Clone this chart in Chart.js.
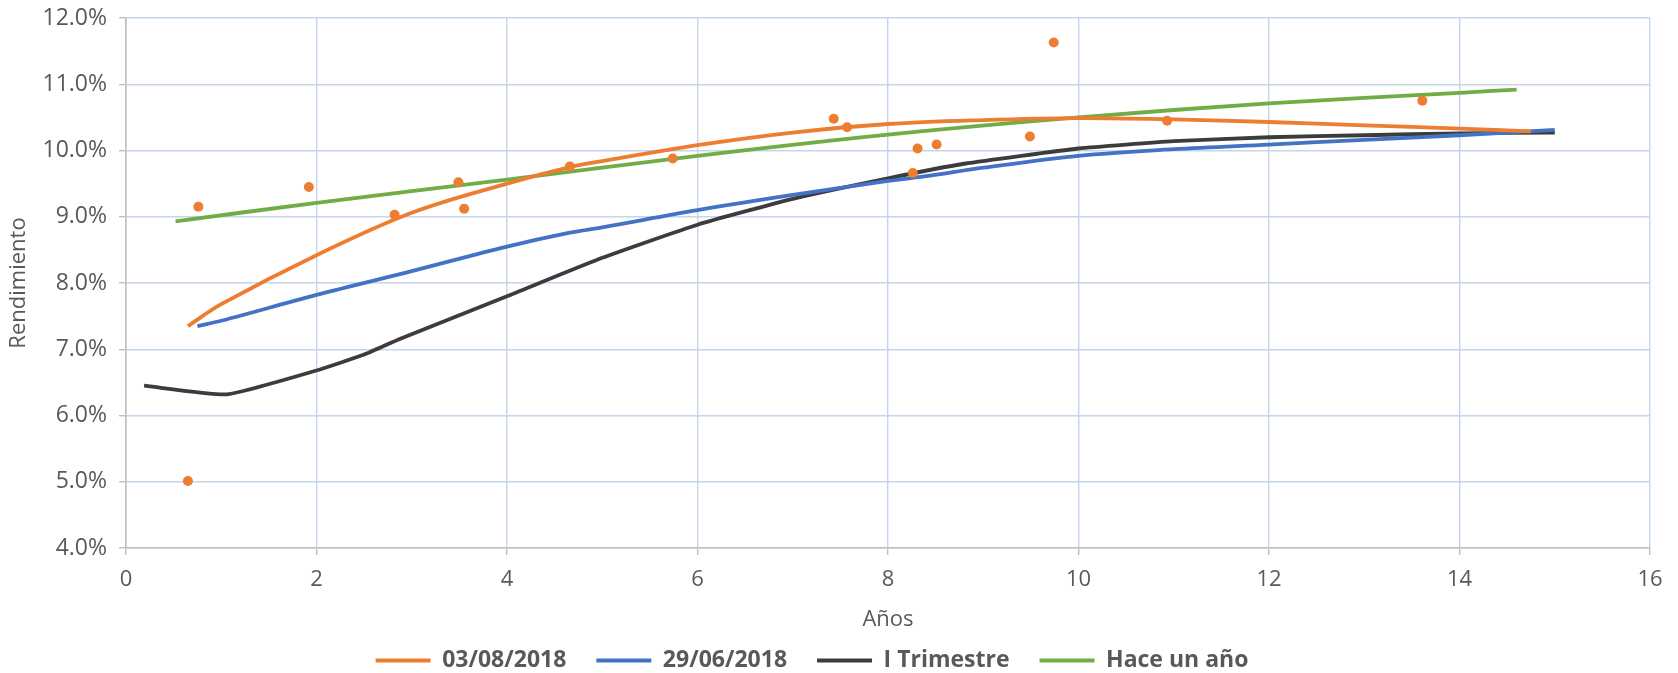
<!DOCTYPE html>
<html>
<head>
<meta charset="utf-8">
<script src="https://cdn.jsdelivr.net/npm/chart.js@4.4.1/dist/chart.umd.min.js"></script>
<style>
  html, body { margin: 0; padding: 0; background: #fff; }
  #wrap { width: 1678px; height: 673px; position: relative; }
</style>
</head>
<body>
<div id="wrap"><canvas id="curva"></canvas></div>
<script>
// ================================
// CURVA DE RENDIMIENTOS
// ================================

// nombres de las series (leyenda)
const seriesNames = ["03/08/2018", "29/06/2018", "I Trimestre", "Hace un año"];

// 03/08/2018 - curva ajustada
const agostoX = [0.65, 1, 2, 3, 4, 4.66, 5, 6, 7, 8, 9, 10, 11, 12, 13, 14, 14.75];
const agostoY = [7.35, 7.68, 8.42, 9.06, 9.5, 9.75, 9.84, 10.08, 10.27, 10.4, 10.46, 10.49, 10.47, 10.43, 10.38, 10.33, 10.29];

// 03/08/2018 - observaciones (puntos)
const obsX = [0.65, 0.76, 1.92, 2.82, 3.49, 3.55, 4.66, 5.74, 7.43, 7.57, 8.26, 8.31, 8.51, 9.49, 9.74, 10.93, 13.61];
const obsY = [5.01, 9.15, 9.45, 9.03, 9.52, 9.12, 9.76, 9.88, 10.48, 10.35, 9.66, 10.03, 10.09, 10.21, 11.63, 10.45, 10.75];

// 29/06/2018
const junioX = [0.75, 1, 2, 3, 4, 4.66, 5, 6, 7, 8, 8.44, 9, 10, 11, 12, 13, 14, 15];
const junioY = [7.35, 7.43, 7.82, 8.18, 8.55, 8.76, 8.84, 9.1, 9.33, 9.54, 9.62, 9.74, 9.92, 10.02, 10.09, 10.16, 10.23, 10.31];

// I Trimestre
const trimX = [0.19, 1.06, 2, 2.5, 2.88, 4, 5, 6, 7, 8, 8.8, 10, 11, 12, 13, 14, 15];
const trimY = [6.45, 6.32, 6.68, 6.92, 7.16, 7.8, 8.38, 8.88, 9.27, 9.58, 9.8, 10.03, 10.14, 10.2, 10.23, 10.26, 10.27];

// Hace un año
const anioX = [0.52, 2, 4, 6, 8, 10, 12, 14, 14.6];
const anioY = [8.93, 9.21, 9.56, 9.92, 10.24, 10.5, 10.71, 10.87, 10.92];

// ejes
const xTicks = [0, 2, 4, 6, 8, 10, 12, 14, 16];
const yTicks = [4, 5, 6, 7, 8, 9, 10, 11, 12];

const toPoints = (xs, ys) => xs.map((x, i) => ({ x: x, y: ys[i] }));

const FONT = "'Open Sans', 'DejaVu Sans', sans-serif";
const TEXT = "#595959";
const GRID = "#C6D5EE";
const AXIS = "#BFBFBF";

// corre la leyenda un poco a la izquierda (como en Excel)
const legendShift = {
  id: "legendShift",
  afterLayout(chart) {
    if (chart.legend) {
      chart.legend.left -= 13;
      chart.legend.right -= 13;
    }
  }
};

function renderCurva(canvasId) {
  const ctx = document.getElementById(canvasId).getContext("2d");

  const lineDs = (label, xs, ys, color, tension) => ({
    type: "scatter",
    label: label,
    data: toPoints(xs, ys),
    showLine: true,
    borderColor: color,
    backgroundColor: color,
    borderWidth: 3.8,
    pointRadius: 0,
    pointHoverRadius: 0,
    tension: tension
  });

  window.curvaChart = new Chart(ctx, {
    type: "scatter",
    data: {
      datasets: [
        {
          label: "obs",
          data: toPoints(obsX, obsY),
          showLine: false,
          backgroundColor: "#ED7D31",
          borderColor: "#ED7D31",
          pointRadius: 5,
          borderWidth: 0
        },
        lineDs(seriesNames[0], agostoX, agostoY, "#ED7D31", 0.35),
        lineDs(seriesNames[1], junioX, junioY, "#4472C4", 0.35),
        lineDs(seriesNames[2], trimX, trimY, "#3C3C3C", 0.15),
        lineDs(seriesNames[3], anioX, anioY, "#70AD47", 0.35)
      ]
    },
    plugins: [legendShift],
    options: {
      responsive: true,
      maintainAspectRatio: false,
      animation: false,
      layout: {
        padding: { top: 18, right: 28, left: 0, bottom: -9 }
      },
      scales: {
        x: {
          type: "linear",
          min: 0,
          max: 16,
          afterBuildTicks: (s) => { s.ticks = xTicks.map(v => ({ value: v })); },
          afterFit: (s) => { s.height = 71; },
          grid: { color: GRID, lineWidth: 1.4, tickLength: 7, tickColor: AXIS },
          border: { color: AXIS, width: 1.6 },
          ticks: { color: TEXT, padding: 12, font: { family: FONT, size: 22 } },
          title: {
            display: true,
            text: "Años",
            color: TEXT,
            padding: { top: 0, bottom: -14 },
            font: { family: FONT, size: 22 }
          }
        },
        y: {
          min: 4,
          max: 12,
          afterBuildTicks: (s) => { s.ticks = yTicks.map(v => ({ value: v })); },
          afterFit: (s) => {
            s.width = 126;
            s.paddingTop = 0;
            s.paddingBottom = 0;
          },
          grid: { color: GRID, lineWidth: 1.4, tickLength: 7, tickColor: AXIS },
          border: { color: AXIS, width: 1.6 },
          ticks: {
            color: TEXT,
            padding: 12,
            font: { family: FONT, size: 23 },
            callback: (v) => v.toFixed(1) + "%"
          },
          title: {
            display: true,
            text: "Rendimiento",
            color: TEXT,
            padding: { top: 6, bottom: 0 },
            font: { family: FONT, size: 22 }
          }
        }
      },
      plugins: {
        legend: {
          position: "bottom",
          labels: {
            filter: (item) => item.text !== "obs",
            usePointStyle: true,
            pointStyle: "line",
            pointStyleWidth: 55,
            padding: 30,
            color: TEXT,
            font: { family: FONT, size: 23, weight: "bold" }
          }
        },
        tooltip: { enabled: false }
      }
    }
  });
}

renderCurva("curva");
</script>
</body>
</html>
